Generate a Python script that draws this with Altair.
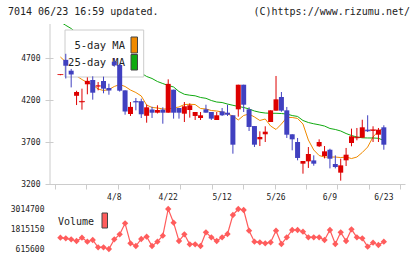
import altair as alt
import pandas as pd

# ---- data ----
idx = list(range(61))
opens = [4498, 4678, 4549, 4250, 4173, 4387, 4438, 4360, 4426, 4343,
         4656, 4617, 4315, 4033, 4186, 4186, 4012, 4087, 4049, 4085,
         4049, 4323, 4105, 4037, 4081, 4010, 3986, 4089, 4057, 3962,
         4065, 4049, 4018, 4089, 4382, 4089, 3890, 3732, 3792, 3938,
         4073, 4236, 4077, 3792, 3700, 3442, 3470, 3481, 3649, 3533,
         3608, 3438, 3335, 3482, 3688, 3745, 3751, 3847, 3833, 3787, 3875]
highs = [4505, 4750, 4570, 4310, 4335, 4470, 4482, 4414, 4478, 4394,
         4700, 4630, 4315, 4176, 4224, 4216, 4144, 4120, 4137, 4113,
         4446, 4323, 4105, 4176, 4160, 4057, 4057, 4144, 4057, 4057,
         4105, 4144, 4018, 4382, 4382, 4113, 3890, 3827, 3887, 4077,
         4486, 4295, 4117, 3792, 3748, 3474, 3640, 3541, 3732, 3652,
         3620, 3541, 3501, 3629, 3859, 3867, 3965, 4018, 3887, 3867, 3899]
lows = [4495, 4456, 4350, 4140, 4085, 4268, 4204, 4315, 4280, 4263,
        4597, 4300, 4025, 4010, 4077, 3986, 3930, 3986, 4040, 3918,
        4049, 3978, 3978, 3938, 3990, 3962, 3962, 4049, 3962, 3962,
        4010, 4010, 3561, 4002, 4057, 3831, 3641, 3652, 3700, 3938,
        4073, 4060, 3748, 3601, 3482, 3323, 3391, 3418, 3640, 3505,
        3386, 3386, 3240, 3414, 3649, 3720, 3751, 3819, 3700, 3700, 3608]
closes = [4503, 4608, 4504, 4295, 4183, 4428, 4287, 4375, 4335, 4313,
          4612, 4311, 4063, 4118, 4176, 4030, 4113, 4049, 4081, 4049,
          4392, 4049, 4049, 4125, 4137, 4057, 4018, 4049, 3978, 4018,
          4018, 4025, 3668, 4382, 4144, 3879, 3668, 3760, 3823, 4077,
          4208, 4073, 3787, 3732, 3510, 3474, 3557, 3442, 3700, 3589,
          3501, 3402, 3422, 3549, 3768, 3755, 3875, 3833, 3845, 3847, 3668]
ma5 = [4712, 4652, 4557, 4486, 4444, 4408, 4379, 4331, 4313, 4325,
       4361, 4384, 4361, 4319, 4289, 4248, 4140, 4111, 4105, 4093,
       4093, 4105, 4117, 4146, 4149, 4146, 4099, 4093, 4075, 4069,
       4057, 4033, 4010, 3962, 4016, 4033, 3998, 3956, 3974, 3890,
       3849, 3914, 3992, 3992, 3980, 3914, 3724, 3605, 3539, 3521,
       3521, 3521, 3515, 3521, 3503, 3521, 3575, 3640, 3760, 3831, 3861]
ma25 = [5130, 5089, 5051, 4998, 4960, 4920, 4880, 4840, 4800, 4760,
        4720, 4680, 4640, 4600, 4560, 4520, 4480, 4456, 4420, 4396,
        4373, 4355, 4301, 4268, 4257, 4250, 4230, 4220, 4194, 4176,
        4170, 4152, 4137, 4123, 4111, 4093, 4069, 4054, 4045, 4042,
        4042, 4039, 4033, 4015, 4004, 3956, 3932, 3917, 3905, 3890,
        3861, 3849, 3831, 3801, 3777, 3760, 3750, 3748, 3748, 3744, 3718]
volume = [1295000, 1255000, 1195000, 1095000, 1295000, 1055000, 1155000, 715000, 715000, 615600,
          1195000, 1495000, 2155000, 955000, 795000, 1215000, 1355000, 795000, 1055000, 1415000,
          3014700, 2195000, 1095000, 1495000, 895000, 895000, 795000, 1615000, 1315000, 1095000,
          1315000, 1515000, 2655000, 3014700, 2955000, 1715000, 1055000, 1015000, 955000, 1015000,
          1715000, 915000, 1315000, 1755000, 1755000, 1655000, 1315000, 1315000, 1315000, 1155000,
          1755000, 915000, 1615000, 1095000, 1795000, 1315000, 1255000, 755000, 995000, 855000, 1055000]
date_labels = ["4/8", "4/22", "5/12", "5/26", "6/9", "6/23"]
date_pos = [10, 20, 30, 40, 50, 60]
price_ticks = [3200, 3700, 4200, 4700]
vol_ticks = [615600, 1815150, 3014700]
x_ticks = [-1 + k * 64 / 11 for k in range(12)]

FONT = "DejaVu Sans Mono"
RED = "#dd0000"
BLUE = "#4040c0"
ORANGE = "#f08a00"
GREEN = "#10aa10"
VOLC = "#ff5c5c"
GRAY = "#cccccc"
TXT = "#222222"

candles = pd.DataFrame({"i": idx, "open": opens, "high": highs, "low": lows, "close": closes})
candles["dir"] = ["up" if c >= o else "down" for o, c in zip(opens, closes)]
mas = pd.DataFrame({"i": idx, "ma5": ma5, "ma25": ma25})
vol = pd.DataFrame({"i": idx, "v": volume})
dates = pd.DataFrame({"i": date_pos, "t": date_labels})
one = alt.Data(values=[{}])

xax = alt.Axis(values=x_ticks, labels=False, tickSize=5, tickColor=GRAY, domainColor=GRAY,
               offset=-71, grid=False, title=None)
X = alt.X("i:Q", scale=alt.Scale(domain=[-1, 63], nice=False, zero=False), axis=xax)
yscale = alt.Scale(domain=[2354.8, 5104.8], nice=False, zero=False)
yax = alt.Axis(values=price_ticks, format="d", domain=False, tickSize=8, tickColor=GRAY,
               offset=-3, labelPadding=5, grid=False, title=None, labelFont=FONT,
               labelFontSize=8, labelColor=TXT)
color = alt.Color("dir:N", scale=alt.Scale(domain=["up", "down"], range=[RED, BLUE]), legend=None)

line5 = alt.Chart(mas).mark_line(color=ORANGE, strokeWidth=1, clip=True).encode(
    x=X, y=alt.Y("ma5:Q", scale=yscale, axis=yax))
line25 = alt.Chart(mas).mark_line(color=GREEN, strokeWidth=1, clip=True).encode(
    x=X, y=alt.Y("ma25:Q", scale=yscale, axis=yax))

yaxis_line = alt.Chart(one).mark_rule(color=GRAY).encode(
    x=alt.value(0), y=alt.value(0), y2=alt.value(160))

box = alt.Chart(one).mark_rect(fill="white", stroke=GRAY, strokeWidth=1).encode(
    x=alt.value(15), x2=alt.value(93.7), y=alt.value(6), y2=alt.value(53))
t5 = alt.Chart(one).mark_text(text="5-day MA", font=FONT, fontSize=10.5, align="right",
                              baseline="middle", color=TXT).encode(x=alt.value(75), y=alt.value(22))
t25 = alt.Chart(one).mark_text(text="25-day MA", font=FONT, fontSize=10.5, align="right",
                               baseline="middle", color=TXT).encode(x=alt.value(75), y=alt.value(38.7))
sw5 = alt.Chart(one).mark_rect(fill=ORANGE, stroke="#444444", strokeWidth=1).encode(
    x=alt.value(81), x2=alt.value(87.5), y=alt.value(13), y2=alt.value(29))
sw25 = alt.Chart(one).mark_rect(fill=GREEN, stroke="#444444", strokeWidth=1).encode(
    x=alt.value(81), x2=alt.value(87.5), y=alt.value(30.5), y2=alt.value(46))

wick = alt.Chart(candles).mark_rule(strokeWidth=1).encode(
    x=X, y=alt.Y("low:Q", scale=yscale, axis=yax), y2="high:Q", color=color)
body = alt.Chart(candles).mark_bar(size=5).encode(
    x=X, y=alt.Y("open:Q", scale=yscale, axis=yax), y2="close:Q", color=color)
doji = alt.Chart(candles).mark_tick(size=6, thickness=1, orient="horizontal").encode(
    x=X, y=alt.Y("close:Q", scale=yscale, axis=yax), color=color
).transform_filter("abs(datum.open - datum.close) < 15")

dlabels = alt.Chart(dates).mark_text(font=FONT, fontSize=8, align="center", baseline="middle",
                                     color=TXT).encode(x=X, y=alt.value(174), text="t:N")
title_l = alt.Chart(one).mark_text(text="7014 06/23 16:59 updated.", font=FONT, fontSize=10,
                                   align="left", baseline="middle", color=TXT).encode(
    x=alt.value(-42), y=alt.value(-12))
title_r = alt.Chart(one).mark_text(text="(C)https://www.rizumu.net/", font=FONT, fontSize=10,
                                   align="right", baseline="middle", color=TXT).encode(
    x=alt.value(360), y=alt.value(-12))

main = alt.layer(line5, line25, yaxis_line, box, t5, t25, sw5, sw25, wick, body, doji,
                 dlabels, title_l, title_r)

vscale = alt.Scale(domain=[255735, 14110538], nice=False, zero=False)
vax = alt.Axis(values=vol_ticks, format="d", orient="left", ticks=False, domain=False, grid=False,
               labelPadding=6, title=None, labelFont=FONT, labelFontSize=8, labelColor=TXT)
vline = alt.Chart(vol).mark_line(color=VOLC, strokeWidth=1.2).encode(
    x=X, y=alt.Y("v:Q", scale=vscale, axis=vax))
vpts = alt.Chart(vol).mark_point(shape="diamond", filled=True, size=40, color=VOLC, opacity=1).encode(
    x=X, y=alt.Y("v:Q", scale=vscale, axis=vax))
vtxt = alt.Chart(one).mark_text(text="Volume", font=FONT, fontSize=10, align="left",
                                baseline="middle", color=TXT).encode(x=alt.value(8), y=alt.value(198))
vsw = alt.Chart(one).mark_rect(fill=VOLC, stroke="#444444", strokeWidth=1).encode(
    x=alt.value(52), x2=alt.value(57.5), y=alt.value(189), y2=alt.value(204))
volc = alt.layer(vline, vpts, vtxt, vsw)

chart = alt.layer(main, volc).resolve_scale(y="independent").properties(
    width=355, height=231,
    padding={"left": 50, "top": 24, "right": 15, "bottom": 4},
    autosize=alt.AutoSizeParams(type="none"),
    background="white",
).configure_view(strokeWidth=0)

chart.save("out.html", embed_options={"renderer": "svg", "actions": False})
